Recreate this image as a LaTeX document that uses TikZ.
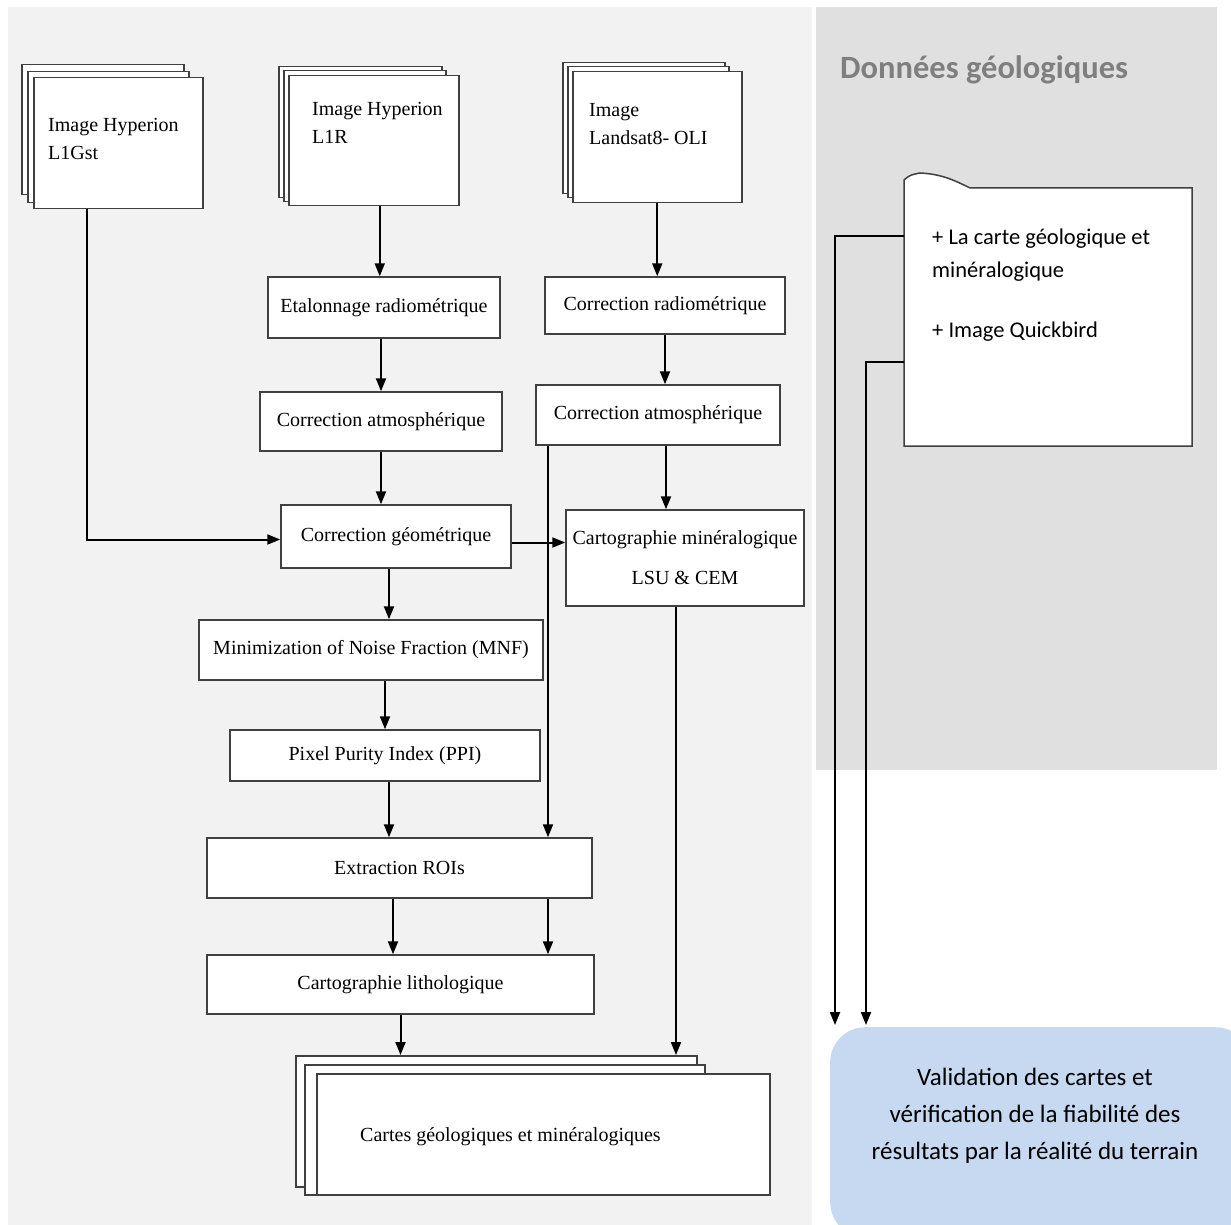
\documentclass[tikz,border=0pt]{standalone}
\usepackage{fontspec}
\setmainfont{Liberation Serif}
\newfontfamily\calibri{Carlito}
\usetikzlibrary{arrows.meta}
\definecolor{panelgray}{HTML}{F2F2F2}
\definecolor{geogray}{HTML}{E0E0E0}
\definecolor{validblue}{HTML}{C6D9F1}
\definecolor{titlegray}{HTML}{7F7F7F}

\begin{document}
\begin{tikzpicture}
      [ x=1pt, y=-1pt
      , >={Triangle[length=13pt, width=10pt]}
      , proc/.style={draw=black!75, line width=1.5pt, fill=white, inner sep=4pt,
                     font=\fontsize{20}{26}\selectfont}
      , sheet/.style={draw=black!75, line width=1.5pt, fill=white, anchor=north west, inner sep=0pt}
      , sheettext/.style={anchor=north west, inner sep=0pt, align=left,
                          font=\fontsize{20}{28}\selectfont}
      , flow/.style={->, black, line width=2pt}
      ]
    \useasboundingbox (0,0) rectangle (1231,1225);
    \fill[panelgray] (8,7) rectangle (812,1225);
    \fill[geogray] (816,7) rectangle (1217,770);

    % input images
    \node[sheet, minimum width=162pt, minimum height=130pt] (l1gc) at (21,64) {};
    \node[sheet, minimum width=161pt, minimum height=131pt] (l1gb) at (27,71) {};
    \node[sheet, minimum width=169pt, minimum height=131pt] (l1g) at (33,77) {};
    \node[sheettext] (l1gtxt) at (48,118) {Image Hyperion\\L1Gst};

    \node[sheet, minimum width=163pt, minimum height=131pt] (l1rc) at (278,66) {};
    \node[sheet, minimum width=162pt, minimum height=131pt] (l1rb) at (283,70) {};
    \node[sheet, minimum width=170pt, minimum height=130pt] (l1r) at (288,75) {};
    \node[sheettext] (l1rtxt) at (312,102) {Image Hyperion\\L1R};

    \node[sheet, minimum width=162pt, minimum height=131pt] (lsatc) at (562,62) {};
    \node[sheet, minimum width=161pt, minimum height=131pt] (lsatb) at (567,66) {};
    \node[sheet, minimum width=169pt, minimum height=131pt] (lsat) at (572,71) {};
    \node[sheettext] (lsattxt) at (589,103) {Image\\Landsat8- OLI};

    % processing chain
    \node[proc, minimum width=232pt, minimum height=61pt] (etal) at (384,307.5) {Etalonnage radiométrique};
    \node[proc, minimum width=240pt, minimum height=57pt] (corrrad) at (665,305.5) {Correction radiométrique};
    \node[proc, minimum width=242pt, minimum height=59pt] (atml) at (381,421.5) {Correction atmosphérique};
    \node[proc, minimum width=244pt, minimum height=60pt] (atmr) at (658,415) {Correction atmosphérique};
    \node[proc, minimum width=230pt, minimum height=63pt] (geom) at (396,536.5) {Correction géométrique};
    \node[proc, minimum width=238pt, minimum height=96pt, align=center] (minera) at (685,558)
        {Cartographie minéralogique\\[14pt]LSU \& CEM};
    \node[proc, minimum width=344pt, minimum height=60pt] (mnf) at (371,650) {Minimization of Noise Fraction (MNF)};
    \node[proc, minimum width=310pt, minimum height=51pt] (ppi) at (385,755.5) {Pixel Purity Index (PPI)};
    \node[proc, minimum width=385pt, minimum height=60pt] (roi) at (399.5,868) {Extraction ROIs};
    \node[proc, minimum width=387pt, minimum height=59pt] (litho) at (400.5,984.5) {Cartographie lithologique};

    % output maps
    \node[sheet, minimum width=401pt, minimum height=131pt] (cartesc) at (295,1055) {};
    \node[sheet, minimum width=400pt, minimum height=130pt] (cartesb) at (304,1064) {};
    \node[sheet, minimum width=453pt, minimum height=121pt] (cartes) at (316,1073) {};
    \node[sheettext] (cartestxt) at (360,1127) {Cartes géologiques et minéralogiques};

    \draw[flow] ([xshift=-31.5pt]l1g.south) |- ([yshift=-3pt]geom.west);
    \draw[flow] ([xshift=6pt]l1r.south) -- ([xshift=6pt]l1r.south |- etal.north);
    \draw[flow] (atml.north |- etal.south) -- (atml.north);
    \draw[flow] (atml.south) -- (atml.south |- geom.north);
    \draw[flow] ([xshift=-7pt]geom.south) -- ([xshift=-7pt]geom.south |- mnf.north);
    \draw[flow] (ppi.north |- mnf.south) -- (ppi.north);
    \draw[flow] ([xshift=4pt]ppi.south) -- ([xshift=4pt]ppi.south |- roi.north);
    \draw[flow] ([xshift=-6.5pt]roi.south) -- ([xshift=-6.5pt]roi.south |- litho.north);
    \draw[flow] ([xshift=148.5pt]roi.south) -- ([xshift=148.5pt]roi.south |- litho.north);
    \draw[flow] (litho.south) -- (litho.south |- cartesc.north);

    \draw[flow] (lsat.south) -- (lsat.south |- corrrad.north);
    \draw[flow] (corrrad.south) -- (corrrad.south |- atmr.north);
    \draw[flow] ([xshift=8pt]atmr.south) -- ([xshift=8pt]atmr.south |- minera.north);
    \draw[flow] ([xshift=-110pt]atmr.south) -- ([xshift=-110pt]atmr.south |- roi.north);
    \draw[flow] ([yshift=-6pt]geom.east) -- ([yshift=-6pt]geom.east -| minera.west);
    \draw[flow] ([xshift=-9pt]minera.south) -- ([xshift=-9pt]minera.south |- cartesc.north);

    % field data
    \node[anchor=west, inner sep=0pt, text=titlegray, font=\calibri\bfseries\fontsize{32.5}{38}\selectfont]
        (titre) at (840,70) {Données géologiques};
    \draw[draw=black!75, line width=1.5pt, fill=white]
        (904,446) -- (904,180) .. controls (910,175) .. (920,173)
        .. controls (940,174) and (952,179) .. (970,188) -- (1192,188) -- (1192,446) -- cycle;
    \node[anchor=north west, inner sep=0pt, align=left, font=\calibri\fontsize{22.5}{33}\selectfont]
        (geotxt) at (932,229) {+ La carte géologique et\\minéralogique\\[27pt]+ Image Quickbird};
    \coordinate (geo1) at (904,236);
    \coordinate (geo2) at (904,362);

    \node[anchor=north west, fill=validblue, rounded corners=35pt, minimum width=420pt,
          minimum height=210pt] (valid) at (830,1027) {};
    \node[align=center, font=\calibri\fontsize{25}{37}\selectfont] (validtxt) at (1035,1116)
        {Validation des cartes et\\vérification de la fiabilité des\\résultats par la réalité du terrain};

    \draw[flow] (geo1) -| ([xshift=5pt, yshift=2pt]valid.north west);
    \draw[flow] (geo2) -| ([xshift=36pt, yshift=2pt]valid.north west);
\end{tikzpicture}
\end{document}
